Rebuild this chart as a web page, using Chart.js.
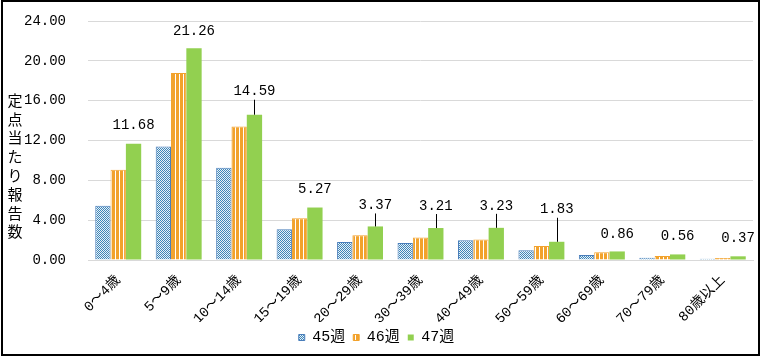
<!DOCTYPE html>
<html>
<head>
<meta charset="utf-8">
<style>
  html, body { margin: 0; padding: 0; background: #fff; }
  #wrap { width: 765px; height: 358px; position: relative; }
</style>
<script src="https://cdn.jsdelivr.net/npm/chart.js@4.4.1/dist/chart.umd.min.js"></script>
</head>
<body>
<div id="wrap"><canvas id="chart" width="765" height="358"></canvas></div>
<script>
const ageGroups = ['0～4歳', '5～9歳', '10～14歳', '15～19歳', '20～29歳', '30～39歳', '40～49歳', '50～59歳', '60～69歳', '70～79歳', '80歳以上'];
const week45 = [5.44, 11.39, 9.27, 3.10, 1.81, 1.71, 1.98, 0.97, 0.50, 0.23, 0.13];
const week46 = [9.07, 18.78, 13.41, 4.20, 2.49, 2.25, 2.05, 1.41, 0.78, 0.40, 0.20];
const week47 = [11.68, 21.26, 14.59, 5.27, 3.37, 3.21, 3.23, 1.83, 0.86, 0.56, 0.37];
const yTicks = [0, 4, 8, 12, 16, 20, 24];

const monoFont = "'Liberation Mono', 'Noto Sans CJK JP', monospace";

// how far above the bar top each 47週 label sits (px); bigger ones get a leader line
const labelLift = [18, 17, 23, 18, 21, 22, 22, 32, 17, 18, 18];

function dotPattern() {
  const c = document.createElement('canvas');
  c.width = 2; c.height = 2;
  const g = c.getContext('2d');
  g.fillStyle = '#e8f1f8';
  g.fillRect(0, 0, 2, 2);
  g.fillStyle = '#3f86b8';
  g.fillRect(0, 0, 1, 1);
  g.fillRect(1, 1, 1, 1);
  return g.createPattern(c, 'repeat');
}

function stripePattern() {
  const c = document.createElement('canvas');
  c.width = 4; c.height = 4;
  const g = c.getContext('2d');
  g.fillStyle = '#ffffff';
  g.fillRect(0, 0, 4, 4);
  g.fillStyle = '#f2a22c';
  g.fillRect(0, 0, 3, 4);
  return g.createPattern(c, 'repeat');
}

const valueLabels = {
  id: 'valueLabels',
  afterDatasetsDraw(chart) {
    const ctx = chart.ctx;
    const meta = chart.getDatasetMeta(2);
    ctx.save();
    ctx.font = '14px ' + monoFont;
    ctx.fillStyle = '#000';
    ctx.textAlign = 'center';
    ctx.textBaseline = 'middle';
    meta.data.forEach((bar, i) => {
      const ty = bar.y - labelLift[i];
      ctx.fillText(week47[i].toFixed(2), bar.x, ty);
      if (labelLift[i] > 19) {
        ctx.strokeStyle = '#000';
        ctx.lineWidth = 1;
        ctx.beginPath();
        ctx.moveTo(Math.round(bar.x) + 0.5, ty + 8);
        ctx.lineTo(Math.round(bar.x) + 0.5, bar.y);
        ctx.stroke();
      }
    });
    ctx.restore();
  }
};

const frame = {
  id: 'frame',
  afterDraw(chart) {
    const ctx = chart.ctx;
    ctx.save();
    // vertical y title, one upright character per line
    ctx.font = '15px "Noto Sans CJK JP"';
    ctx.fillStyle = '#000';
    ctx.textAlign = 'center';
    ctx.textBaseline = 'middle';
    const title = '定点当たり報告数';
    for (let i = 0; i < title.length; i++) {
      ctx.fillText(title[i], 15, 100 + i * 18.8);
    }
    ctx.strokeStyle = '#000';
    ctx.lineWidth = 2;
    ctx.strokeRect(2, 1, 757, 354);
    ctx.restore();
  }
};

const ctx = document.getElementById('chart');

const chartData = {
  labels: ageGroups,
  datasets: [
    {
      label: '45週',
      data: week45,
      backgroundColor: dotPattern(),
      borderColor: '#4a7ebb',
      borderWidth: 1,
      categoryPercentage: 0.76,
      barPercentage: 1.0
    },
    {
      label: '46週',
      data: week46,
      backgroundColor: stripePattern(),
      borderColor: '#f2a22c',
      borderWidth: 1,
      categoryPercentage: 0.76,
      barPercentage: 1.0
    },
    {
      label: '47週',
      data: week47,
      backgroundColor: '#92d050',
      borderWidth: 0,
      categoryPercentage: 0.76,
      barPercentage: 1.0
    }
  ]
};

const config = {
  type: 'bar',
  data: chartData,
  options: {
    responsive: false,
    animation: false,
    layout: { padding: { top: 21, right: 12, bottom: 3, left: 0 } },
    plugins: {
      legend: {
        position: 'bottom',
        labels: {
          boxWidth: 6,
          boxHeight: 6,
          padding: 8,
          color: '#000',
          font: { size: 15, family: monoFont }
        }
      },
      tooltip: { enabled: false }
    },
    scales: {
      x: {
        grid: { display: false },
        border: { color: '#d9d9d9' },
        ticks: {
          minRotation: 45,
          maxRotation: 45,
          color: '#000',
          padding: 4,
          font: { size: 14, family: monoFont }
        },
        afterFit(s) { s.height = 62; }
      },
      y: {
        min: 0,
        max: 24,
        afterBuildTicks(s) { s.ticks = yTicks.map(v => ({ value: v })); },
        grid: { color: '#d9d9d9', drawTicks: true, tickLength: 19, tickColor: 'rgba(0,0,0,0)' },
        border: { display: false },
        ticks: {
          padding: 3,
          color: '#000',
          font: { size: 14, family: monoFont },
          callback: v => v.toFixed(2)
        },
        afterFit(s) { s.width = 88; }
      }
    }
  },
  plugins: [valueLabels, frame]
};

const chart = new Chart(ctx, config);
</script>
</body>
</html>
